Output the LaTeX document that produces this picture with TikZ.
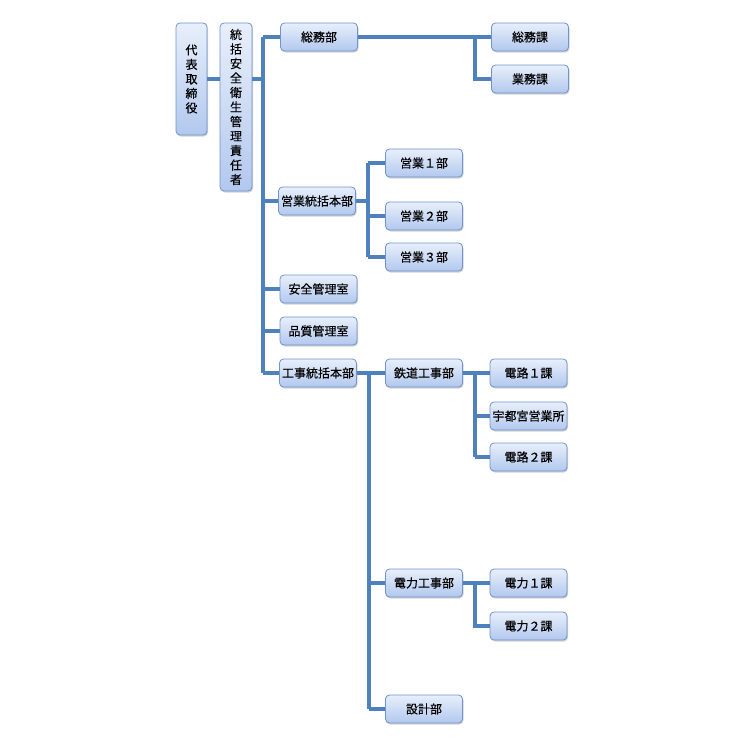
\documentclass[tikz,border=0pt]{standalone}
\usepackage{fontspec}
\newfontfamily\jp[FakeBold=0.4]{Noto Sans CJK JP}
\usetikzlibrary{shadows}
\definecolor{boxline}{RGB}{110,147,206}
\definecolor{boxtop}{RGB}{232,239,251}
\definecolor{boxbot}{RGB}{178,200,238}
\definecolor{conncol}{RGB}{79,129,189}
\tikzset{
  unit/.style={draw=boxline, line width=.8pt, rounded corners=4pt, top color=boxtop, bottom color=boxbot,
    drop shadow={opacity=.35, shadow xshift=1pt, shadow yshift=-1.5pt},
    inner sep=1pt, font=\jp\fontsize{12}{14.5}\selectfont, align=center},
  hbox/.style={unit, minimum width=77pt, minimum height=28pt},
  conn/.style={conncol, line width=3.6pt}
}

\begin{document}
\begin{tikzpicture}[x=1pt, y=-1pt]
 \useasboundingbox (0,0) rectangle (750,744);

 % top of the tree
 \node[unit, minimum width=31pt, minimum height=112pt] (daihyo) at (191.5,79) {代\\表\\取\\締\\役};
 \node[unit, minimum width=32pt, minimum height=168pt] (sekinin) at (236,107) {統\\括\\安\\全\\衛\\生\\管\\理\\責\\任\\者};

 % second level
 \node[hbox] (somubu) at (319,37) {総務部};
 \node[hbox] (eigyo) at (317,201) {営業統括本部};
 \node[hbox] (anzen) at (318.5,289) {安全管理室};
 \node[hbox] (hinshitsu) at (318.5,331) {品質管理室};
 \node[hbox] (koji) at (318,373) {工事統括本部};

 % third level
 \node[hbox] (somuka) at (530,37) {総務課};
 \node[hbox] (gyomuka) at (530,79) {業務課};
 \node[hbox] (eigyo1) at (424,163) {営業１部};
 \node[hbox] (eigyo2) at (424,216) {営業２部};
 \node[hbox] (eigyo3) at (424,257) {営業３部};
 \node[hbox] (tetsudo) at (424,373) {鉄道工事部};
 \node[hbox] (denryoku) at (424,583) {電力工事部};
 \node[hbox] (sekkei) at (424,709) {設計部};

 % fourth level
 \node[hbox] (denro1) at (528.5,373) {電路１課};
 \node[hbox] (utsunomiya) at (528.5,416) {宇都宮営業所};
 \node[hbox] (denro2) at (528.5,457) {電路２課};
 \node[hbox] (denryoku1) at (528.5,583) {電力１課};
 \node[hbox] (denryoku2) at (528.5,626) {電力２課};

 % trunks
 \coordinate (trunkA) at (263,0);
 \coordinate (trunkB) at (475,0);
 \coordinate (trunkC) at (368,0);
 \coordinate (trunkD) at (369,0);

 \draw[conn] (daihyo.east) -- (sekinin.west |- daihyo.east);
 \draw[conn] (sekinin.east |- daihyo.east) -- (trunkA |- daihyo.east);
 \draw[conn] (trunkA |- somubu) -- (trunkA |- koji);
 \foreach \n in {somubu,eigyo,anzen,hinshitsu,koji}
   \draw[conn] (trunkA |- \n) -- (\n.west);

 \draw[conn] (somubu) -- (somuka);
 \draw[conn] (trunkB |- somuka) -- (trunkB |- gyomuka) -- (gyomuka.west);

 \draw[conn] (eigyo.east) -- (trunkC |- eigyo);
 \draw[conn] (trunkC |- eigyo1) -- (trunkC |- eigyo3);
 \foreach \n in {eigyo1,eigyo2,eigyo3}
   \draw[conn] (trunkC |- \n) -- (\n.west);

 \draw[conn] (koji) -- (tetsudo);
 \draw[conn] (trunkD |- koji) -- (trunkD |- sekkei);
 \foreach \n in {denryoku,sekkei}
   \draw[conn] (trunkD |- \n) -- (\n.west);

 \draw[conn] (tetsudo) -- (denro1);
 \draw[conn] (trunkB |- denro1) -- (trunkB |- denro2);
 \foreach \n in {utsunomiya,denro2}
   \draw[conn] (trunkB |- \n) -- (\n.west);

 \draw[conn] (denryoku) -- (denryoku1);
 \draw[conn] (trunkB |- denryoku1) -- (trunkB |- denryoku2) -- (denryoku2.west);
\end{tikzpicture}
\end{document}
